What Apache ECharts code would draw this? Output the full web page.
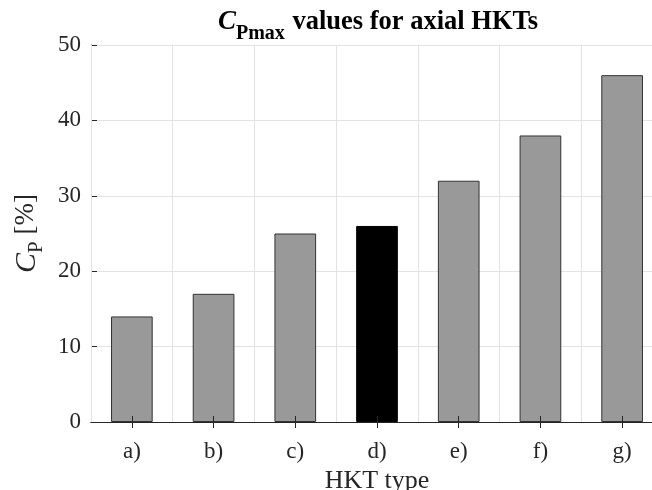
<!DOCTYPE html>
<html>
<head>
<meta charset="utf-8">
<script src="https://cdn.jsdelivr.net/npm/echarts@6/dist/echarts.min.js"></script>
<style>
  html, body { margin: 0; padding: 0; background: #fff; }
  #chart { width: 652px; height: 490px; }
</style>
</head>
<body>
<div id="chart"></div>
<script>
// HKT types and their maximum power coefficient (%)
const categories = ['a)', 'b)', 'c)', 'd)', 'e)', 'f)', 'g)'];
const cpMax = [14, 17, 25, 26, 32, 38, 46];
const highlighted = 'd)';
const yTicks = { min: 0, max: 50, interval: 10 };

const serif = '"Liberation Serif", "Times New Roman", serif';
const axisColor = '#262626';
const gridColor = '#e3e3e3';

const chart = echarts.init(document.getElementById('chart'));

const barData = cpMax.map((v, i) => ({
  value: v,
  itemStyle: categories[i] === highlighted
    ? { color: '#000000', borderColor: '#000000' }
    : { color: '#999999', borderColor: '#333333' }
}));

chart.setOption({
  animation: false,
  backgroundColor: '#ffffff',
  title: {
    text: '{c|C}{s|Pmax}{t| values for axial HKTs}',
    left: 373,
    textAlign: 'center',
    top: 4,
    textStyle: {
      rich: {
        c: { fontFamily: serif, fontSize: 27, fontWeight: 'bold', fontStyle: 'italic', color: '#000', verticalAlign: 'top', lineHeight: 28 },
        s: { fontFamily: serif, fontSize: 20, fontWeight: 'bold', color: '#000', padding: [15, 1, 0, 0], verticalAlign: 'top', lineHeight: 22 },
        t: { fontFamily: serif, fontSize: 26.5, fontWeight: 'bold', color: '#000', verticalAlign: 'top', lineHeight: 28 }
      }
    }
  },
  // the plot box runs past the right edge of the canvas
  grid: { left: 91, top: 45, width: 572, height: 377, outerBoundsMode: 'none', containLabel: false },
  xAxis: [{
    type: 'category',
    data: categories,
    name: 'HKT type',
    nameLocation: 'middle',
    nameGap: 42,
    nameTextStyle: { fontFamily: serif, fontSize: 26, color: axisColor },
    axisLine: { show: true, lineStyle: { color: axisColor, width: 1 } },
    axisTick: { show: true, inside: true, alignWithLabel: true, length: 6, lineStyle: { color: axisColor } },
    axisLabel: { fontFamily: serif, fontSize: 23, color: axisColor, margin: 18 },
    splitLine: { show: true, lineStyle: { color: gridColor, width: 1 } },
    boundaryGap: true,
    z: 5
  }, {
    type: 'category',
    position: 'top',
    data: categories,
    axisLine: { show: true, lineStyle: { color: axisColor, width: 1 } },
    axisTick: { show: true, inside: true, alignWithLabel: true, length: 6, lineStyle: { color: axisColor } },
    axisLabel: { show: false },
    splitLine: { show: false },
    z: 5
  }],
  yAxis: [{
    type: 'value',
    min: yTicks.min,
    max: yTicks.max,
    interval: yTicks.interval,
    name: '{c|C}{s|P}{t| [%]}',
    nameLocation: 'middle',
    nameRotate: 90,
    nameGap: 45,
    nameTextStyle: {
      rich: {
        c: { fontFamily: serif, fontSize: 30, fontStyle: 'italic', color: axisColor, verticalAlign: 'top', lineHeight: 30 },
        s: { fontFamily: serif, fontSize: 21, color: axisColor, padding: [14, 0, 0, 0], verticalAlign: 'top', lineHeight: 22 },
        t: { fontFamily: serif, fontSize: 27, color: axisColor, verticalAlign: 'top', lineHeight: 30 }
      }
    },
    axisLine: { show: true, lineStyle: { color: axisColor, width: 1 } },
    axisTick: { show: true, inside: true, length: 6, lineStyle: { color: axisColor } },
    axisLabel: { fontFamily: serif, fontSize: 23, color: axisColor, margin: 10 },
    splitLine: { show: true, lineStyle: { color: gridColor, width: 1 } }
  }, {
    type: 'value',
    position: 'right',
    min: yTicks.min,
    max: yTicks.max,
    interval: yTicks.interval,
    axisLine: { show: true, lineStyle: { color: axisColor, width: 1 } },
    axisTick: { show: true, inside: true, length: 6, lineStyle: { color: axisColor } },
    axisLabel: { show: false },
    splitLine: { show: false }
  }],
  series: [{
    type: 'bar',
    data: barData,
    barWidth: '51%',
    itemStyle: { borderWidth: 1 },
    z: 3
  }]
});
</script>
</body>
</html>
